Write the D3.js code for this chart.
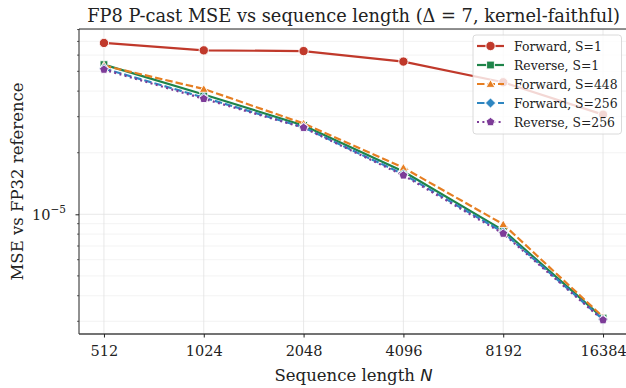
<!DOCTYPE html>
<html>
<head>
<meta charset="utf-8">
<script src="https://cdn.jsdelivr.net/npm/d3@7"></script>
<style>
  body { margin: 0; background: #fff; }
  svg { display: block; font-family: "DejaVu Serif", serif; }
</style>
</head>
<body>
<div id="chart"></div>
<script>
// data
var seqLengths = [512, 1024, 2048, 4096, 8192, 16384];
var forwardS1   = [6.88e-5, 6.33e-5, 6.28e-5, 5.58e-5, 4.42e-5, 3.07e-5];
var reverseS1   = [5.39e-5, 3.85e-5, 2.72e-5, 1.62e-5, 8.35e-6, 3.11e-6];
var forwardS448 = [5.33e-5, 4.10e-5, 2.78e-5, 1.69e-5, 8.94e-6, 3.15e-6];
var forwardS256 = [5.16e-5, 3.72e-5, 2.66e-5, 1.57e-5, 8.17e-6, 3.06e-6];
var reverseS256 = [5.10e-5, 3.67e-5, 2.65e-5, 1.55e-5, 8.05e-6, 3.04e-6];
var seriesLabels = ["Forward, S=1", "Reverse, S=1", "Forward, S=448", "Forward, S=256", "Reverse, S=256"];
var yMajorTicks = [1e-5];
var yMinorTicks = [3e-6, 4e-6, 5e-6, 6e-6, 7e-6, 8e-6, 9e-6, 2e-5, 3e-5, 4e-5, 5e-5, 6e-5, 7e-5, 8e-5];
var yDomain = [2.6e-6, 8.05e-5];

var W = 626, H = 388;
var margin = { top: 29, right: -2, bottom: 54, left: 79 };

var svg = d3.select("#chart").append("svg")
  .attr("width", W).attr("height", H);

var x = d3.scaleLog().base(2)
  .domain([seqLengths[0] * Math.pow(2, -0.25), seqLengths[seqLengths.length - 1] * Math.pow(2, 0.25)])
  .range([margin.left, W - margin.right]);
var y = d3.scaleLog().domain(yDomain).range([H - margin.bottom, margin.top]);

var x0 = margin.left, x1 = W - margin.right, y0 = H - margin.bottom, y1 = margin.top;

// grid
var grid = svg.append("g");
grid.selectAll(".ymin").data(yMinorTicks).enter().append("line")
  .attr("x1", x0).attr("x2", x1)
  .attr("y1", function(d) { return y(d); }).attr("y2", function(d) { return y(d); })
  .attr("stroke", "#f0f0f0").attr("stroke-width", 0.8);
grid.selectAll(".ymaj").data(yMajorTicks).enter().append("line")
  .attr("x1", x0).attr("x2", x1)
  .attr("y1", function(d) { return y(d); }).attr("y2", function(d) { return y(d); })
  .attr("stroke", "#e3e3e3").attr("stroke-width", 0.8);
grid.selectAll(".xg").data(seqLengths).enter().append("line")
  .attr("y1", y0).attr("y2", y1)
  .attr("x1", function(d) { return x(d); }).attr("x2", function(d) { return x(d); })
  .attr("stroke", "#e3e3e3").attr("stroke-width", 0.8);

// series
var series = [
  { name: seriesLabels[0], values: forwardS1,   color: "#c0392b", dash: null,    marker: "circle" },
  { name: seriesLabels[1], values: reverseS1,   color: "#1e8449", dash: null,    marker: "square" },
  { name: seriesLabels[2], values: forwardS448, color: "#e67e22", dash: "7.5,3", marker: "triangle" },
  { name: seriesLabels[3], values: forwardS256, color: "#2e86c1", dash: "7.5,3", marker: "diamond" },
  { name: seriesLabels[4], values: reverseS256, color: "#7d3c98", dash: "2,3.4", marker: "pentagon" }
];

function markerPath(kind) {
  var r = 4.6, pts = [];
  if (kind === "circle") return d3.symbol(d3.symbolCircle, 68)();
  if (kind === "square") return "M-3.9,-3.9H3.9V3.9H-3.9Z";
  if (kind === "diamond") return "M0,-5.1L5.1,0L0,5.1L-5.1,0Z";
  if (kind === "triangle") { r = 5.1; for (var i = 0; i < 3; i++) { var a = -Math.PI / 2 + i * 2 * Math.PI / 3; pts.push([r * Math.cos(a), r * Math.sin(a) + 0.8]); } }
  if (kind === "pentagon") { for (var j = 0; j < 5; j++) { var b = -Math.PI / 2 + j * 2 * Math.PI / 5; pts.push([r * Math.cos(b), r * Math.sin(b)]); } }
  return "M" + pts.map(function(p) { return p[0].toFixed(2) + "," + p[1].toFixed(2); }).join("L") + "Z";
}

var line = d3.line()
  .x(function(d, i) { return x(seqLengths[i]); })
  .y(function(d) { return y(d); });

series.forEach(function(s) {
  var g = svg.append("g");
  g.append("path")
    .attr("d", line(s.values))
    .attr("fill", "none")
    .attr("stroke", s.color)
    .attr("stroke-width", 2.2)
    .attr("stroke-dasharray", s.dash);
  g.selectAll("path.m").data(s.values).enter().append("path")
    .attr("class", "m")
    .attr("d", markerPath(s.marker))
    .attr("transform", function(d, i) { return "translate(" + x(seqLengths[i]) + "," + y(d) + ")"; })
    .attr("fill", s.color)
    .attr("stroke", "#fff")
    .attr("stroke-width", 0.9);
});

// spines
svg.append("line").attr("x1", x0).attr("x2", x0).attr("y1", y1).attr("y2", y0)
  .attr("stroke", "#222").attr("stroke-width", 1);
svg.append("line").attr("x1", x0).attr("x2", x1).attr("y1", y1).attr("y2", y1)
  .attr("stroke", "#222").attr("stroke-width", 1);
svg.append("line").attr("x1", x0).attr("x2", x1).attr("y1", y0).attr("y2", y0)
  .attr("stroke", "#444").attr("stroke-width", 1.4);

// x axis
var xAxis = svg.append("g")
  .attr("transform", "translate(0," + y0 + ")")
  .call(d3.axisBottom(x).tickValues(seqLengths).tickFormat(d3.format("d")).tickSize(3.5).tickSizeOuter(0));
xAxis.select(".domain").remove();
xAxis.selectAll(".tick line").attr("stroke", "#222");
xAxis.selectAll(".tick text")
  .attr("font-family", "DejaVu Serif").attr("font-size", 14.5).attr("fill", "#222").attr("dy", "1.1em");

// y axis
var yAxis = svg.append("g")
  .attr("transform", "translate(" + x0 + ",0)")
  .call(d3.axisLeft(y).tickValues(yMajorTicks).tickFormat("").tickSize(3.5).tickSizeOuter(0));
yAxis.select(".domain").remove();
yAxis.selectAll(".tick line").attr("stroke", "#222");
svg.append("g").selectAll("line").data(yMinorTicks).enter().append("line")
  .attr("x1", x0 - 2).attr("x2", x0)
  .attr("y1", function(d) { return y(d); }).attr("y2", function(d) { return y(d); })
  .attr("stroke", "#222").attr("stroke-width", 0.7);

yMajorTicks.forEach(function(t) {
  var txt = svg.append("text")
    .attr("x", x0 - 13).attr("y", y(t) + 5.5)
    .attr("text-anchor", "end").attr("font-size", 14.5).attr("fill", "#222");
  txt.append("tspan").text("10");
  txt.append("tspan").attr("dy", -7).attr("font-size", 10.5).text("\u2212" + Math.round(-Math.log10(t)));
});

// labels
svg.append("text")
  .attr("x", (x0 + x1) / 2).attr("y", 22)
  .attr("text-anchor", "middle").attr("font-size", 17.8).attr("fill", "#222")
  .text("FP8 P-cast MSE vs sequence length (\u0394 = 7, kernel-faithful)");

var xl = svg.append("text")
  .attr("x", (x0 + x1) / 2).attr("y", 381)
  .attr("text-anchor", "middle").attr("font-size", 16.5).attr("fill", "#222");
xl.append("tspan").text("Sequence length ");
xl.append("tspan").attr("font-family", "DejaVu Sans").attr("font-style", "italic").text("N");

svg.append("text")
  .attr("transform", "translate(23," + ((y0 + y1) / 2) + ") rotate(-90)")
  .attr("text-anchor", "middle").attr("font-size", 16.5).attr("fill", "#222")
  .text("MSE vs FP32 reference");

// legend
var lg = svg.append("g").attr("transform", "translate(473,35)");
lg.append("rect")
  .attr("width", 148.5).attr("height", 99).attr("rx", 3)
  .attr("fill", "#fff").attr("fill-opacity", 0.8)
  .attr("stroke", "#d0d0d0").attr("stroke-width", 0.8);
series.forEach(function(s, i) {
  var row = lg.append("g").attr("transform", "translate(0," + (11 + i * 19) + ")");
  row.append("line")
    .attr("x1", 4).attr("x2", 31)
    .attr("stroke", s.color).attr("stroke-width", 2.2)
    .attr("stroke-dasharray", s.dash);
  row.append("path")
    .attr("d", markerPath(s.marker))
    .attr("transform", "translate(17.5,0)")
    .attr("fill", s.color).attr("stroke", "#fff").attr("stroke-width", 0.9);
  row.append("text")
    .attr("x", 41).attr("y", 4.5)
    .attr("font-size", 12.4).attr("fill", "#222")
    .text(s.name);
});
</script>
</body>
</html>
